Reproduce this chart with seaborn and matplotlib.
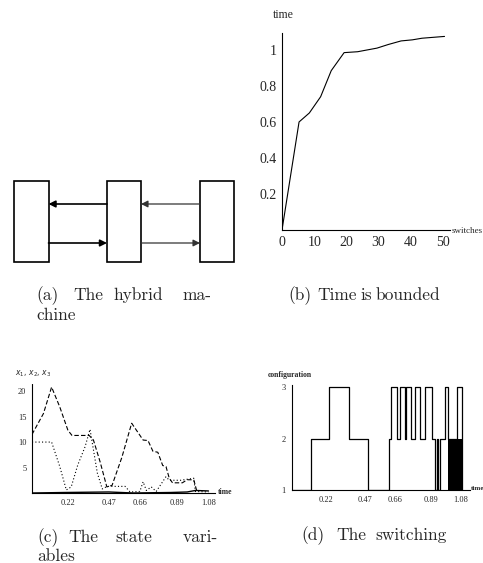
import matplotlib.pyplot as plt
import seaborn as sns
from matplotlib.patches import Rectangle

# (a) diagram: three boxes and the arrows between them
box_left = [13.5, 107, 200]
box_right = [48.5, 141, 234]
box_top, box_bottom = 181, 262
arrow_top_y, arrow_bottom_y = 204, 243

# (b) elapsed time against number of switches
switches = [0, 5.3, 8.5, 12, 15.3, 19.3, 23.5, 29.5, 33, 37, 40.5, 43.5, 50.5]
elapsed = [0.0, 0.60, 0.65, 0.74, 0.885, 0.985, 0.99, 1.01, 1.03, 1.05, 1.056, 1.065, 1.075]

# (c) state variables
t_x1 = [0.0, 0.07, 0.12, 0.17, 0.22, 0.245, 0.35, 0.376, 0.417, 0.458, 0.49, 0.55, 0.61,
        0.68, 0.71, 0.74, 0.77, 0.80, 0.82, 0.84, 0.86, 0.92, 0.95, 0.99, 1.01]
x1 = [11.5, 15.6, 20.8, 16.9, 12.3, 11.3, 11.3, 10.4, 6.1, 1.2, 1.5, 7.0, 13.7,
      10.4, 10.3, 8.2, 8.0, 5.4, 5.2, 2.9, 2.0, 2.0, 2.6, 2.6, 0.2]
t_x2 = [0.0, 0.12, 0.17, 0.21, 0.24, 0.28, 0.325, 0.355, 0.40, 0.43, 0.46, 0.57, 0.60,
        0.66, 0.68, 0.70, 0.73, 0.76, 0.82, 0.84, 0.91, 0.99, 1.0, 1.08]
x2 = [10.0, 10.0, 5.2, 0.6, 1.2, 5.5, 9.1, 12.5, 3.9, 0.8, 1.3, 1.3, 0.2,
      0.3, 2.2, 0.5, 1.2, 0.3, 3.2, 2.5, 2.5, 2.9, 0.3, 0.2]
t_x3 = [0.0, 0.2, 0.47, 0.62, 0.85, 0.95, 1.0, 1.08]
x3 = [0.0, 0.1, 0.2, 0.0, 0.1, 0.2, 0.5, 0.4]
time_ticks = [0.22, 0.47, 0.66, 0.89, 1.08]
time_labels = ["0.22", "0.47", "0.66", "0.89", "1.08"]

# (d) configuration switching (switch instants and new configuration)
switch_t = [0.0, 0.126, 0.239, 0.366, 0.487, 0.621, 0.634, 0.672, 0.691, 0.723, 0.729,
            0.761, 0.787, 0.818, 0.850, 0.895, 0.915, 0.925, 0.935, 0.946, 0.978,
            0.995, 1.016, 1.054, 1.083]
config = [1, 2, 3, 2, 1, 2, 3, 2, 3, 2, 3,
          2, 3, 2, 3, 2, 1, 2, 1, 2, 3,
          2, 2, 3, 1]
chatter_start, chatter_end = 0.995, 1.084

sns.set_style("white")
SERIF = ["Liberation Serif", "DejaVu Serif"]
plt.rcParams["font.family"] = SERIF

W, H = 483, 563
fig = plt.figure(figsize=(W / 100, H / 100), dpi=100)


def px_axes(x0, y0, x1, y1):
    return fig.add_axes([x0 / W, 1 - y1 / H, (x1 - x0) / W, (y1 - y0) / H])


def px_text(x, y, s, **kw):
    fig.text(x / W, 1 - y / H, s, **kw)


def style_axes(ax, dashed_left=False):
    for side in ["top", "right"]:
        ax.spines[side].set_visible(False)
    for side in ["left", "bottom"]:
        ax.spines[side].set_linewidth(0.8)
        ax.spines[side].set_color("black")
    if dashed_left:
        ax.spines["left"].set_linestyle((0, (2, 1)))
    ax.tick_params(length=2, width=0.6, color="black")


# ---- (a) the hybrid machine
ax_a = px_axes(0, 170, 240, 270)
ax_a.set_xlim(0, 240)
ax_a.set_ylim(270, 170)
ax_a.axis("off")
for l, r in zip(box_left, box_right):
    ax_a.add_patch(Rectangle((l, box_top), r - l, box_bottom - box_top,
                             fill=False, lw=1.2, ec="black"))
arrow_kw = dict(arrowstyle="-|>", mutation_scale=10, shrinkA=0, shrinkB=0)
ax_a.annotate("", xy=(box_right[0], arrow_top_y), xytext=(box_left[1], arrow_top_y),
              arrowprops=dict(lw=1.2, color="black", **arrow_kw))
ax_a.annotate("", xy=(box_left[1], arrow_bottom_y), xytext=(box_right[0], arrow_bottom_y),
              arrowprops=dict(lw=1.2, color="black", **arrow_kw))
ax_a.annotate("", xy=(box_right[1], arrow_top_y), xytext=(box_left[2], arrow_top_y),
              arrowprops=dict(lw=0.9, color="#333333", **arrow_kw))
ax_a.annotate("", xy=(box_left[2], arrow_bottom_y), xytext=(box_right[1], arrow_bottom_y),
              arrowprops=dict(lw=0.9, color="#333333", **arrow_kw))

# ---- (b) time is bounded
ax_b = px_axes(282, 33, 450, 230)
sns.lineplot(x=switches, y=elapsed, color="black", lw=0.8, ax=ax_b)
ax_b.set_xlim(0, 52.2)
ax_b.set_ylim(0, 1.094)
ax_b.set_xticks([0, 10, 20, 30, 40, 50])
ax_b.set_yticks([0.2, 0.4, 0.6, 0.8, 1.0])
ax_b.set_yticklabels(["0.2", "0.4", "0.6", "0.8", "1"])
style_axes(ax_b)
ax_b.tick_params(labelsize=10, pad=2)
px_text(283, 15, "time", fontsize=8.5, ha="center", va="center")
px_text(452, 231, "switches", fontsize=6.5, ha="left", va="center")

# ---- (c) the state variables
ax_c = px_axes(32, 383, 215, 493)
sns.lineplot(x=t_x1, y=x1, sort=False, estimator=None, color="black", lw=0.8,
             linestyle=(0, (4, 2)), ax=ax_c)
sns.lineplot(x=t_x2, y=x2, sort=False, estimator=None, color="black", lw=0.8,
             linestyle=(0, (1, 2)), ax=ax_c)
sns.lineplot(x=t_x3, y=x3, sort=False, estimator=None, color="black", lw=1.0, ax=ax_c)
ax_c.set_xlim(0, 1.12)
ax_c.set_ylim(0, 21.6)
ax_c.set_xticks(time_ticks)
ax_c.set_xticklabels(time_labels)
ax_c.set_yticks([5, 10, 15, 20])
style_axes(ax_c, dashed_left=True)
ax_c.tick_params(labelsize=6, pad=2)
px_text(15, 374, "$x_1,\\, x_2,\\, x_3$", fontsize=5.5, ha="left", va="center")
px_text(218, 492, "time", fontsize=5.5, fontweight="bold", ha="left", va="center")

# ---- (d) the switching
ax_d = px_axes(291.5, 385, 470, 490)
sns.lineplot(x=switch_t, y=config, sort=False, estimator=None, color="black", lw=0.9,
             drawstyle="steps-post", ax=ax_d)
ax_d.fill_between([chatter_start, chatter_end], 1, 2, color="black", lw=0)
ax_d.set_xlim(0, 1.137)
ax_d.set_ylim(1, 3.04)
ax_d.set_xticks(time_ticks)
ax_d.set_xticklabels(time_labels)
ax_d.set_yticks([1, 2, 3])
style_axes(ax_d, dashed_left=True)
ax_d.tick_params(labelsize=6, pad=2)
px_text(268, 375, "configuration", fontsize=5.5, fontweight="bold", ha="left", va="center")
px_text(471, 488, "time", fontsize=5, fontweight="bold", ha="left", va="center")

# ---- captions (justified words placed one by one)
captions = [
    ([("(a)", 36), ("The", 73), ("hybrid", 113), ("ma-", 182)], 300),
    ([("chine", 36)], 320),
    ([("(b)", 288), ("Time", 317), ("is", 360), ("bounded", 376)], 300),
    ([("(c)", 37), ("The", 68), ("state", 115), ("vari-", 183)], 542),
    ([("ables", 37)], 561),
    ([("(d)", 301), ("The", 336), ("switching", 375)], 540),
]
for words, base in captions:
    for word, x in words:
        px_text(x, base, word, fontsize=12.5, ha="left", va="baseline",
                family=["cmr10", "DejaVu Serif"])

fig.savefig("out.png", dpi=100)
